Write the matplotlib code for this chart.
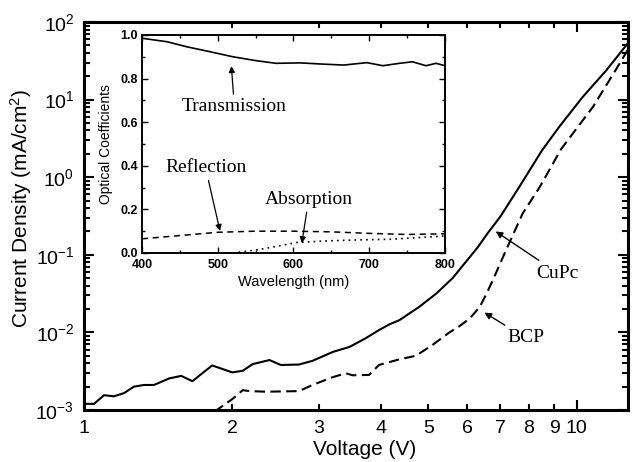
import numpy as np
import matplotlib
matplotlib.use('Agg')
import matplotlib.pyplot as plt
from matplotlib.ticker import LogLocator, NullFormatter, FixedLocator, MultipleLocator

matplotlib.rc('font', family=['Liberation Sans', 'DejaVu Sans'])
matplotlib.rc('mathtext', default='regular')

# J-V data (Voltage in V, current density in mA/cm^2)
v_cupc = [1.00, 1.048, 1.098, 1.15, 1.206, 1.263, 1.324, 1.387, 1.489, 1.575, 1.66, 1.82,
          2.0, 2.10, 2.2, 2.38, 2.51, 2.73, 2.91, 3.2, 3.46, 3.73, 3.97, 4.17, 4.37, 4.80,
          5.2, 5.6, 5.9, 6.3, 6.6, 7.0, 7.65, 8.5, 9.23, 10.3, 11.5, 12.7]
j_cupc = [1.2e-3, 1.2e-3, 1.55e-3, 1.5e-3, 1.65e-3, 2.0e-3, 2.1e-3, 2.1e-3, 2.55e-3, 2.75e-3,
          2.35e-3, 3.75e-3, 3.05e-3, 3.2e-3, 3.9e-3, 4.4e-3, 3.8e-3, 3.85e-3, 4.3e-3, 5.6e-3,
          6.5e-3, 8.4e-3, 1.07e-2, 1.27e-2, 1.44e-2, 2.15e-2, 3.2e-2, 5.0e-2, 7.5e-2, 0.125,
          0.19, 0.31, 0.75, 2.2, 4.5, 10.9, 24, 53]

v_bcp = [1.84, 2.0, 2.10, 2.17, 2.34, 2.73, 2.91, 3.2, 3.4, 3.51, 3.79, 3.97, 4.37, 4.72,
         5.10, 5.52, 5.78, 6.06, 6.35, 6.52, 6.76, 7.19, 7.77, 8.42, 9.3, 10.8, 12.0, 12.7]
j_bcp = [0.95e-3, 1.38e-3, 1.8e-3, 1.75e-3, 1.72e-3, 1.75e-3, 2.1e-3, 2.65e-3, 2.97e-3, 2.8e-3,
         2.83e-3, 3.8e-3, 4.5e-3, 5.0e-3, 6.9e-3, 1.0e-2, 1.2e-2, 1.5e-2, 2.1e-2, 2.9e-2,
         4.7e-2, 0.115, 0.34, 0.75, 2.3, 8.1, 24, 43.6]

# inset optical coefficients
wl_t = [400, 433, 459, 490, 520, 551, 577, 609, 635, 666, 697, 718, 740, 757, 775, 788, 800]
trans = [0.985, 0.969, 0.946, 0.923, 0.90, 0.882, 0.870, 0.872, 0.867, 0.862, 0.873, 0.859,
         0.870, 0.877, 0.859, 0.870, 0.859]
wl_r = [400, 450, 500, 550, 600, 650, 700, 750, 800]
refl = [0.065, 0.08, 0.095, 0.10, 0.10, 0.097, 0.09, 0.085, 0.088]
wl_a = [520, 551, 577, 604, 640, 684, 728, 771, 800]
absorb = [0.0, 0.014, 0.03, 0.048, 0.055, 0.06, 0.063, 0.072, 0.078]

xticks_main = [1, 10]
xticks_minor = [2, 3, 4, 5, 6, 7, 8, 9]

serif = ['Liberation Serif', 'DejaVu Serif']

fig = plt.figure(figsize=(6.33, 4.62), dpi=100)
ax = fig.add_axes([0.1327, 0.1126, 0.859, 0.8398])

ax.plot(v_cupc, j_cupc, color='black', linestyle='-', linewidth=1.5)
ax.plot(v_bcp, j_bcp, color='black', linestyle=(0, (5, 2.6)), linewidth=1.5)
ax.set_xscale('log')
ax.set_yscale('log')
ax.set_xlim(1, 12.7)
ax.set_ylim(1e-3, 1e2)

ax.xaxis.set_major_locator(FixedLocator(xticks_main))
ax.xaxis.set_minor_locator(FixedLocator(xticks_minor))
ax.set_xticklabels([str(t) for t in xticks_main])
ax.set_xticklabels([str(t) for t in xticks_minor], minor=True)
ax.yaxis.set_major_locator(LogLocator(base=10, numticks=10))
ax.yaxis.set_minor_locator(LogLocator(base=10, subs=np.arange(2, 10), numticks=10))
ax.yaxis.set_minor_formatter(NullFormatter())

ax.tick_params(which='both', direction='in', top=True, right=True, labelsize=14, width=1.5)
ax.tick_params(which='major', length=7, pad=7)
ax.tick_params(which='minor', length=4, pad=7)
for s in ax.spines.values():
    s.set_linewidth(2.2)

ax.set_xlabel('Voltage (V)', fontsize=15)
ax.xaxis.set_label_coords(0.517, -0.078)
ax.set_ylabel('Current Density (mA/cm$^2$)', fontsize=15)
ax.yaxis.set_label_coords(-0.092, 0.52)

ax.annotate('CuPc', xy=(6.85, 0.2), xytext=(8.3, 0.058), fontsize=14, family=serif,
            ha='left', va='center',
            arrowprops=dict(arrowstyle='-|>', color='black', lw=1, shrinkA=2, shrinkB=0,
                            mutation_scale=10))
ax.annotate('BCP', xy=(6.5, 0.018), xytext=(7.22, 0.0085), fontsize=14, family=serif,
            ha='left', va='center',
            arrowprops=dict(arrowstyle='-|>', color='black', lw=1, shrinkA=2, shrinkB=0,
                            mutation_scale=10))

# inset
ins = fig.add_axes([0.2243, 0.4524, 0.4787, 0.4719])
ins.plot(wl_t, trans, color='black', linestyle='-', linewidth=1.2)
ins.plot(wl_r, refl, color='black', linestyle=(0, (4, 3)), linewidth=1.1)
ins.plot(wl_a, absorb, color='black', linestyle=(0, (1, 2.5)), linewidth=1.2)
ins.set_xlim(400, 800)
ins.set_ylim(0, 1.0)
ins.xaxis.set_major_locator(MultipleLocator(100))
ins.xaxis.set_minor_locator(MultipleLocator(50))
ins.yaxis.set_major_locator(MultipleLocator(0.2))
ins.yaxis.set_minor_locator(MultipleLocator(0.1))
ins.yaxis.set_major_formatter(matplotlib.ticker.FormatStrFormatter('%.1f'))
ins.tick_params(which='both', direction='in', top=True, right=True, labelsize=9, width=1)
ins.tick_params(which='major', length=4, pad=3)
ins.tick_params(axis='x', which='major', pad=4.5)
ins.tick_params(which='minor', length=2.5)
for lab in ins.get_xticklabels() + ins.get_yticklabels():
    lab.set_fontweight('bold')
for s in ins.spines.values():
    s.set_linewidth(1.4)
ins.set_xlabel('Wavelength (nm)', fontsize=10.5, labelpad=3)
ins.set_ylabel('Optical Coefficients', fontsize=10, labelpad=5)

arrow = dict(arrowstyle='-|>', color='black', lw=0.9, shrinkA=1, shrinkB=0, mutation_scale=9)
ins.annotate('Transmission', xy=(518, 0.857), xytext=(522, 0.67), fontsize=14, family=serif,
             ha='center', va='center', arrowprops=arrow)
ins.annotate('Reflection', xy=(503, 0.101), xytext=(484, 0.39), fontsize=14, family=serif,
             ha='center', va='center', arrowprops=arrow)
ins.annotate('Absorption', xy=(611, 0.045), xytext=(620, 0.245), fontsize=14, family=serif,
             ha='center', va='center', arrowprops=arrow)

plt.savefig('out.png', dpi=100)
